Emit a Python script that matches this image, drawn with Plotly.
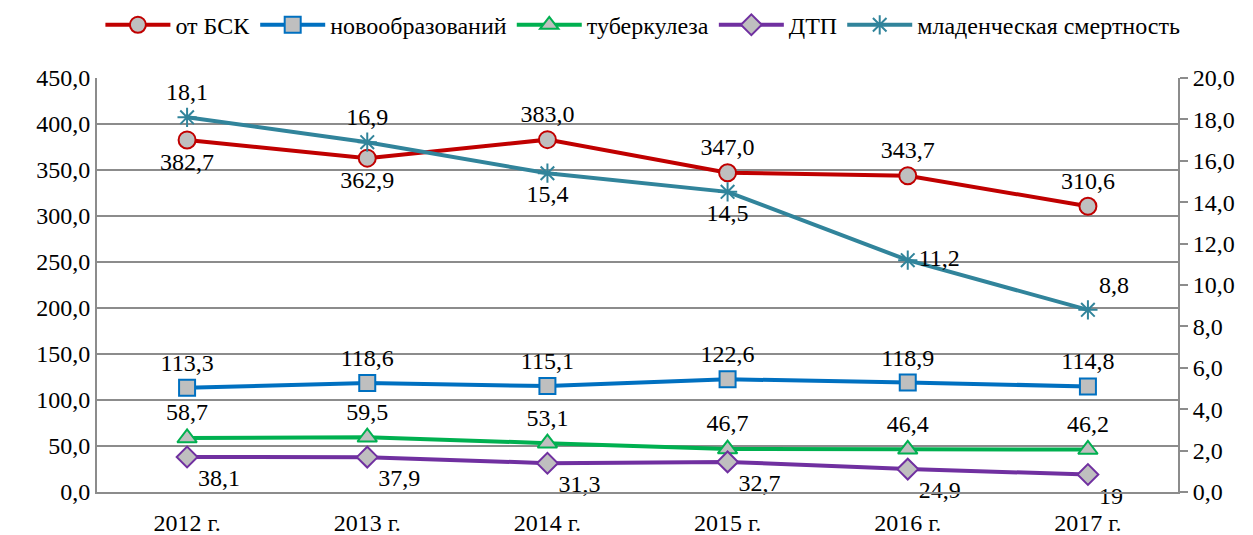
import plotly.graph_objects as go

years = ["2012 г.", "2013 г.", "2014 г.", "2015 г.", "2016 г.", "2017 г."]
bsk = [382.7, 362.9, 383.0, 347.0, 343.7, 310.6]
neo = [113.3, 118.6, 115.1, 122.6, 118.9, 114.8]
tb = [58.7, 59.5, 53.1, 46.7, 46.4, 46.2]
dtp = [38.1, 37.9, 31.3, 32.7, 24.9, 19]
infant = [18.1, 16.9, 15.4, 14.5, 11.2, 8.8]

dtp_labels = ["38,1", "37,9", "31,3", "32,7", "24,9", "19"]

def fmt(v):
    return f"{v:.1f}".replace(".", ",")

FONT = "Liberation Serif, Times New Roman, serif"
GRAY = "#BFBFBF"
FS = 24

fig = go.Figure()

def add(name, y, color, symbol, textpos, text=None, msize=16):
    fig.add_trace(go.Scatter(
        x=years, y=y, name=name, mode="lines+markers+text",
        line=dict(color=color, width=4),
        marker=dict(symbol=symbol, size=msize, color=GRAY,
                    line=dict(color=color, width=2)),
        text=text if text is not None else [fmt(v) for v in y],
        textposition=textpos,
        textfont=dict(family=FONT, size=FS, color="black"),
        cliponaxis=False,
    ))

add("от БСК", bsk, "#C00000", "circle",
    ["bottom center", "bottom center", "top center", "top center", "top center", "top center"], msize=17)
add("новообразований", neo, "#0070C0", "square", "top center", msize=16)
add("туберкулеза", tb, "#00B050", "triangle-up", "top center", msize=17)
add("ДТП", dtp, "#7030A0", "diamond", "bottom right", text=dtp_labels, msize=16)
fig.add_trace(go.Scatter(
    x=years, y=infant, name="младенческая смертность", mode="lines+markers+text",
    yaxis="y2",
    line=dict(color="#31849B", width=4),
    marker=dict(symbol="asterisk-open", size=16, color="#31849B",
                line=dict(color="#31849B", width=2)),
    text=[fmt(v) for v in infant],
    textposition=["top center", "top center", "bottom center", "bottom center", "middle right", "top right"],
    textfont=dict(family=FONT, size=FS, color="black"),
    cliponaxis=False,
))

fig.update_layout(
    width=1253, height=535,
    margin=dict(l=97, r=75, t=78, b=43, autoexpand=False),
    paper_bgcolor="white", plot_bgcolor="white",
    separators=", ",
    font=dict(family=FONT, size=FS, color="black"),
    showlegend=True,
    legend=dict(orientation="h", x=0.505, xanchor="center", y=0.995, yref="container",
                yanchor="top", font=dict(family=FONT, size=FS), itemwidth=65,
                tracegroupgap=0),
    xaxis=dict(range=[-0.5, 5.5], showgrid=False, showline=True, linecolor="#8C8C8C",
               linewidth=2, ticks="", ticklabelstandoff=8, tickfont=dict(family=FONT, size=FS)),
    yaxis=dict(range=[0, 450], dtick=50, tickformat=".1f", showgrid=True,
               gridcolor="#8C8C8C", gridwidth=2, showline=True, linecolor="#8C8C8C",
               linewidth=2, ticks="", zeroline=False, tickfont=dict(family=FONT, size=FS)),
    yaxis2=dict(range=[0, 20], dtick=2, tickformat=".1f", overlaying="y", side="right",
                showgrid=False, showline=True, linecolor="#8C8C8C", linewidth=2,
                ticks="outside", ticklen=8, tickcolor="#8C8C8C", tickwidth=2,
                zeroline=False, tickfont=dict(family=FONT, size=FS)),
)

fig.write_html("out.html", config={"displayModeBar": False},
               post_script="document.body.style.margin='0';")
